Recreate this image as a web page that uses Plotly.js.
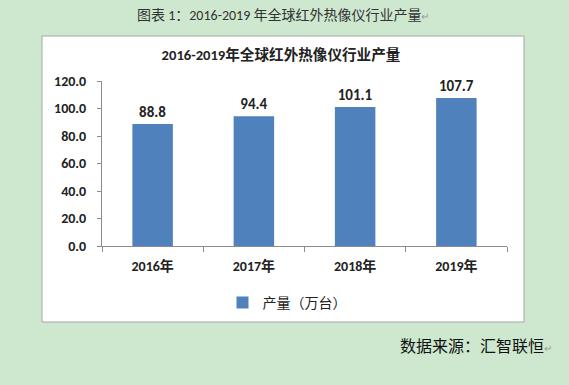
<!DOCTYPE html>
<html><head><meta charset="utf-8">
<script src="https://cdn.plot.ly/plotly-3.0.1.min.js"></script>
<style>html,body{margin:0;padding:0;background:#cde8cf;}</style>
</head><body>
<div id="chart" style="width:569px;height:385px;"></div>
<script>
const categories = ["2016年", "2017年", "2018年", "2019年"];
const production = [88.8, 94.4, 101.1, 107.7];
const seriesName = "产量（万台）";
const chartTitle = "2016-2019年全球红外热像仪行业产量";
const captionText = "图表 1：2016-2019 年全球红外热像仪行业产量";
const sourceText = "数据来源：汇智联恒";

const W = 569, H = 385;
const L = 102, R = 507, T = 81, B = 246;
const px = x => (x - L) / (R - L);
const py = y => (B - y) / (B - T);

const cjk = "Calibri, 'Liberation Sans', 'Noto Sans CJK SC', sans-serif";

const trace = {
  type: "bar",
  x: categories,
  y: production,
  name: seriesName,
  marker: {color: "#4f81bd"},
  width: 0.4,
  text: production.map(v => v.toFixed(1)),
  textposition: "outside",
  textfont: {family: cjk, size: 15, color: "#222", weight: 700},
  cliponaxis: false,
  showlegend: true
};

const layout = {
  width: W, height: H,
  margin: {l: L, r: W - R, t: T, b: H - B, pad: 0},
  paper_bgcolor: "#cde8cf",
  plot_bgcolor: "#ffffff",
  font: {family: cjk, color: "#222"},
  title: {
    text: "<b>" + chartTitle + "</b>",
    font: {family: cjk, size: 14.6, color: "#222"},
    xref: "paper", x: px(281), xanchor: "center",
    yref: "container", y: 1 - 55 / H, yanchor: "middle"
  },
  xaxis: {
    type: "category",
    showline: true, linecolor: "#8c8c8c", linewidth: 1,
    ticks: "outside", ticklen: 5, tickcolor: "#8c8c8c",
    tickson: "boundaries",
    ticklabelstandoff: 7,
    tickfont: {family: cjk, size: 14, color: "#222", weight: 700},
    showgrid: false, zeroline: false
  },
  yaxis: {
    range: [0, 120], dtick: 20, tickformat: ".1f",
    showline: true, linecolor: "#8c8c8c", linewidth: 1,
    ticks: "outside", ticklen: 4, tickcolor: "#8c8c8c",
    ticklabelstandoff: 8,
    tickfont: {family: cjk, size: 14, color: "#222", weight: 700},
    showgrid: false, zeroline: false
  },
  showlegend: true,
  legend: {
    orientation: "h", x: px(287), xanchor: "center",
    y: py(303), yanchor: "middle",
    itemwidth: 30,
    font: {family: cjk, size: 14, color: "#222"},
    bgcolor: "rgba(0,0,0,0)"
  },
  shapes: [{
    type: "rect", xref: "paper", yref: "paper", layer: "below",
    x0: px(42), x1: px(524), y0: py(322), y1: py(36),
    fillcolor: "#ffffff", line: {color: "#a6a6a6", width: 1}
  }],
  annotations: [
    {
      text: captionText + "<span style='color:#9a9a9a;font-size:10px'>↵</span>",
      xref: "paper", yref: "paper", x: px(283), y: py(15),
      xanchor: "center", yanchor: "middle", showarrow: false,
      font: {family: cjk, size: 14, color: "#333"}
    },
    {
      text: sourceText + "<span style='color:#9a9a9a;font-size:10px'>↵</span>",
      xref: "paper", yref: "paper", x: px(398), y: py(345),
      xanchor: "left", yanchor: "middle", showarrow: false,
      font: {family: "'Noto Sans CJK SC', sans-serif", size: 16, color: "#111"}
    }
  ]
};

Plotly.newPlot("chart", [trace], layout, {displayModeBar: false, staticPlot: true});
</script>
</body></html>
